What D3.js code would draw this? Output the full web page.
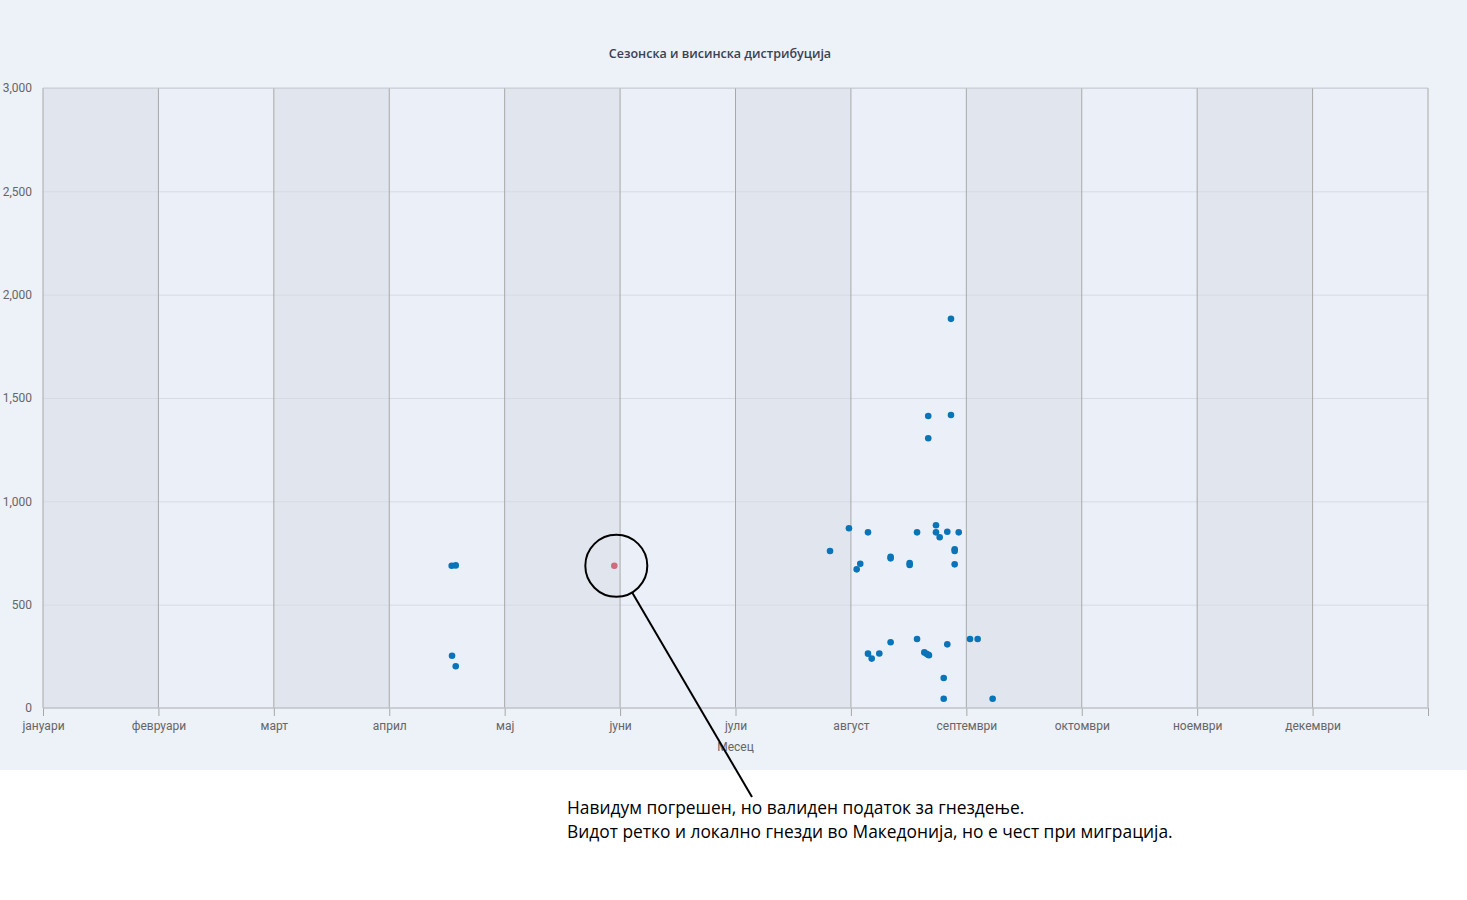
<!DOCTYPE html>
<html>
<head>
<meta charset="utf-8">
<script src="https://cdn.jsdelivr.net/npm/d3@7"></script>
<style>
  html, body { margin: 0; padding: 0; background: #ffffff; }
  svg { display: block; }
</style>
</head>
<body>
<svg id="chart" width="1467" height="900"></svg>
<script>
// ---------- data ----------
const title = "Сезонска и висинска дистрибуција";
const xAxisTitle = "Месец";
const months = ["јануари","февруари","март","април","мај","јуни","јули","август","септември","октомври","ноември","декември"];
const yTicks = [0, 500, 1000, 1500, 2000, 2500, 3000];

// x = position in months from 1 January (0 = start of January), y = elevation (m)
const obsMonth = [3.541, 3.576, 3.544, 3.576,
  6.819, 6.983, 7.148, 7.573, 7.737, 7.737, 7.769, 7.835, 7.934, 7.899, 7.899, 7.899,
  7.344, 7.344, 7.081, 7.050, 7.509, 7.509,
  7.573, 7.344, 7.148, 7.246, 7.180, 7.636, 7.655, 7.676, 7.670, 7.835, 8.032, 8.098,
  7.804, 7.804, 8.228,
  7.867, 7.670, 7.867, 7.670];
const obsElev = [688, 690, 253, 202,
  760, 870, 850, 850, 884, 850, 826, 853, 850, 768, 760, 695,
  732, 724, 698, 671, 701, 692,
  334, 318, 263, 264, 239, 269, 262, 255, 258, 308, 334, 334,
  145, 45, 45,
  1883, 1413, 1418, 1305];

const flaggedMonth = [4.950];
const flaggedElev = [688];

const noteLines = ["Навидум погрешен, но валиден податок за гнездење.",
                   "Видот ретко и локално гнезди во Македонија, но е чест при миграција."];

// ---------- layout ----------
const svg = d3.select("#chart");
const W = 1467, H = 900;
const panelH = 770;
const m = {left: 43, right: 1428, top: 88, bottom: 708};

svg.append("rect").attr("x", 0).attr("y", 0).attr("width", W).attr("height", panelH)
  .attr("fill", "#edf1f8");

const x = d3.scaleLinear().domain([0, 12]).range([m.left, m.right]);
const y = d3.scaleLinear().domain([0, 3000]).range([m.bottom, m.top]);

// alternating month bands
svg.append("g").selectAll("rect").data(months).join("rect")
  .attr("x", (d, i) => x(i)).attr("y", m.top)
  .attr("width", (d, i) => x(i + 1) - x(i)).attr("height", m.bottom - m.top)
  .attr("fill", (d, i) => i % 2 === 0 ? "#e1e6ee" : "#ebf0f8");

// horizontal grid
svg.append("g").attr("transform", `translate(${m.left},0)`)
  .call(d3.axisLeft(y).tickValues(yTicks.slice(1)).tickSize(-(m.right - m.left)).tickFormat(""))
  .call(g => g.select(".domain").remove())
  .call(g => g.selectAll("line").attr("stroke", "#d6dae2").attr("stroke-width", 1));

// y labels
svg.append("g").attr("transform", `translate(${m.left},0)`)
  .call(d3.axisLeft(y).tickValues(yTicks).tickSize(0).tickPadding(11).tickFormat(d3.format(",")))
  .call(g => g.select(".domain").remove())
  .call(g => g.selectAll("text").attr("fill", "#666").style("font-family", "Roboto, 'Open Sans', sans-serif").style("font-size", "12px"));

// vertical month lines
svg.append("g").selectAll("line").data(d3.range(13)).join("line")
  .attr("x1", d => x(d)).attr("x2", d => x(d))
  .attr("y1", m.top).attr("y2", m.bottom)
  .attr("stroke", "#a8a8a8").attr("stroke-width", 1);

// x axis
const xAxis = svg.append("g").attr("transform", `translate(0,${m.bottom})`)
  .call(d3.axisBottom(x).tickValues(d3.range(13)).tickSize(8).tickPadding(5)
    .tickFormat(d => d < 12 ? months[d] : ""));
xAxis.select(".domain").attr("stroke", "#bfc3c9").attr("d", `M${m.left},0H${m.right}`);
xAxis.selectAll("line").attr("stroke", "#a8a8a8");
xAxis.selectAll("text").attr("fill", "#666")
  .style("font-family", "Roboto, 'Open Sans', sans-serif").style("font-size", "12px");

svg.append("line").attr("x1", m.left).attr("x2", m.right).attr("y1", m.top).attr("y2", m.top)
  .attr("stroke", "#c8ccd2");
svg.append("line").attr("x1", m.left).attr("x2", m.right).attr("y1", m.bottom).attr("y2", m.bottom)
  .attr("stroke", "#bfc3c9");

svg.append("text").attr("x", (m.left + m.right) / 2).attr("y", 751)
  .attr("text-anchor", "middle").attr("fill", "#666")
  .style("font-family", "Roboto, 'Open Sans', sans-serif").style("font-size", "12px")
  .text(xAxisTitle);

// title
svg.append("text").attr("x", 720).attr("y", 58).attr("text-anchor", "middle")
  .attr("fill", "#3a4150")
  .style("font-family", "'Open Sans', sans-serif").style("font-size", "12.5px").style("font-weight", "600")
  .text(title);

// points
svg.append("g").selectAll("circle").data(obsMonth).join("circle")
  .attr("cx", d => x(d)).attr("cy", (d, i) => y(obsElev[i])).attr("r", 3.3)
  .attr("fill", "#0a74b8");

svg.append("g").selectAll("circle").data(flaggedMonth).join("circle")
  .attr("cx", d => x(d)).attr("cy", (d, i) => y(flaggedElev[i])).attr("r", 3.3)
  .attr("fill", "#d06a7c");

// annotation
const fx = x(flaggedMonth[0]) + 2, fy = y(flaggedElev[0]);
svg.append("circle").attr("cx", fx).attr("cy", fy).attr("r", 31)
  .attr("fill", "none").attr("stroke", "#000").attr("stroke-width", 2);
svg.append("line").attr("x1", fx + 16).attr("y1", fy + 27).attr("x2", 752).attr("y2", 797)
  .attr("stroke", "#000").attr("stroke-width", 2);

const note = svg.append("g");
const targetW = [458, 606];
noteLines.forEach((t, i) => {
  const el = note.append("text").attr("x", 567).attr("y", 814 + i * 24)
    .attr("fill", "#000")
    .style("font-family", "'Open Sans', 'Noto Sans', sans-serif").style("font-size", "16px")
    .text(t);
  const w = el.node().getComputedTextLength();
  if (i === 1 && w > 0) {
    const fs = 16 * targetW[1] / w;
    note.selectAll("text").style("font-size", fs + "px");
  }
});
</script>
</body>
</html>
